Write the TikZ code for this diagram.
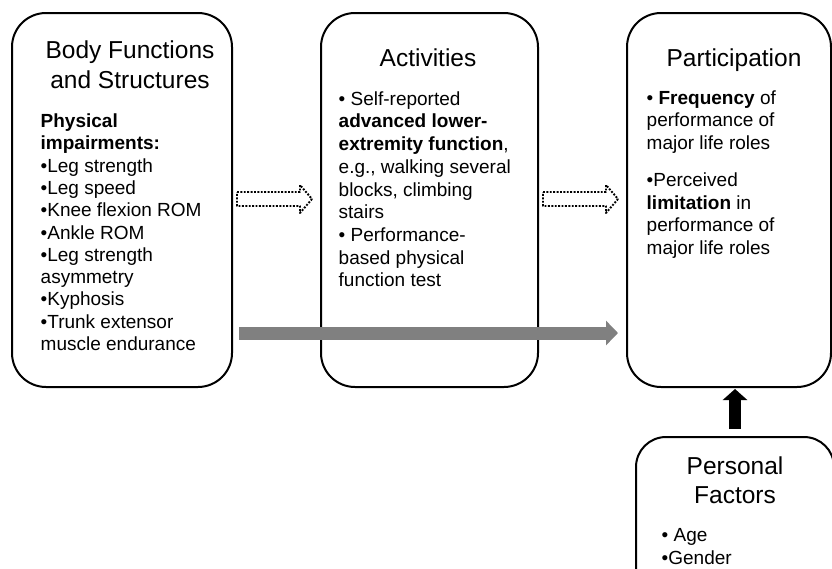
\documentclass[tikz,border=0pt]{standalone}
\usepackage{fontspec}
\setmainfont{Liberation Sans}
\usetikzlibrary{calc,arrows.meta}
\begin{document}
\begin{tikzpicture}[x=1pt,y=-1pt,
  box/.style={draw, line width=2pt, rounded corners=34pt, inner sep=0pt},
  ttl/.style={font=\fontsize{24.5}{30}\selectfont, align=center, anchor=north, inner sep=0pt},
  body/.style={font=\fontsize{19}{22.7}\selectfont, align=left, anchor=north west, inner sep=0pt},
  dotarr/.style={line width=1.9pt, dash pattern=on 1.9pt off 1.5pt, line join=round},
  grayarr/.style={draw=gray, line width=13pt, -{Triangle[length=12pt,width=24pt]}},
  blackarr/.style={draw=black, line width=12pt, -{Triangle[length=11pt,width=24pt]}}
]
\useasboundingbox (0,0) rectangle (832,568);
\fill[white] (0,0) rectangle (832,568);

% boxes
\node[box, minimum width=220pt, minimum height=374pt] (bfs) at (122,200) {};
\node[box, minimum width=217pt, minimum height=374pt] (act) at (429.5,200) {};
\node[box, minimum width=204pt, minimum height=374pt] (par) at (729,200) {};
\node[box, rounded corners=30pt, minimum width=198pt, minimum height=183pt] (pf) at (735,528.5) {};

% titles
\node[ttl] (bfsT) at (130,39.3) {\rule{0pt}{19pt}Body Functions\\and Structures};
\node[ttl] (actT) at (428,47.7) {\rule{0pt}{19pt}Activities};
\node[ttl] (parT) at (734,47.7) {\rule{0pt}{19pt}Participation};
\node[ttl, font=\fontsize{24.5}{29}\selectfont] (pfT) at (735,455) {\rule{0pt}{19pt}Personal\\Factors};

% body texts
\node[body, font=\fontsize{19}{22.3}\selectfont] (bfsB) at (40.5,112.3) {\rule{0pt}{15pt}\textbf{Physical}\\
\textbf{impairments:}\\
•Leg strength\\
•Leg speed\\
•Knee flexion ROM\\
•Ankle ROM\\
•Leg strength\\
asymmetry\\
•Kyphosis\\
•Trunk extensor\\
muscle endurance};

\node[body] (actB) at (338.5,90) {\rule{0pt}{15pt}• Self-reported\\
\textbf{advanced lower-}\\
\textbf{extremity function},\\
e.g., walking several\\
blocks, climbing\\
stairs\\
• Performance-\\
based physical\\
function test};

\node[body] (parB) at (646.5,89) {\rule{0pt}{15pt}• \textbf{Frequency} of\\
performance of\\
major life roles\\[14pt]
•Perceived\\
\textbf{limitation} in\\
performance of\\
major life roles};

\node[body, font=\fontsize{19}{22.3}\selectfont] (pfB) at (661.5,526.7) {\rule{0pt}{15pt}• Age\\
•Gender};

% dotted block arrows
\coordinate (d1) at ($(bfs.east)!0.5!(act.west)+(-2,-1)$);
\coordinate (d2) at ($(act.east)!0.5!(par.west)+(-2,-1)$);
\foreach \c in {d1,d2}{
  \draw[dotarr, shift={(\c)}] (-37.5,-7) -- (25.5,-7) -- (25.5,-14) -- (37.5,0)
     -- (25.5,14) -- (25.5,7) -- (-37.5,7) -- cycle;
}

% gray arrow (over Activities box)
\coordinate (gy) at (0,333);
\draw[grayarr] ($(bfs.east |- gy)+(6,0)$) -- ($(par.west |- gy)+(-8,0)$);

% black arrow
\draw[blackarr] ($(pf.north)+(0,-7)$) -- ($(pf.north |- par.south)+(0,1)$);
\end{tikzpicture}
\end{document}
